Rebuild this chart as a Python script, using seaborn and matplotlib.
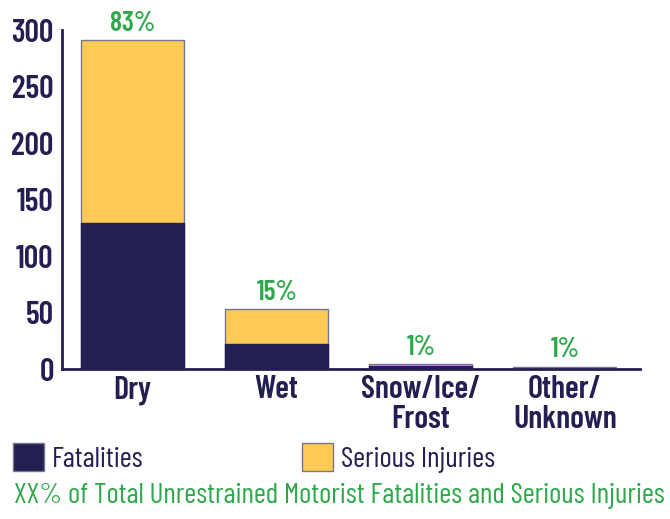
import pandas as pd
import matplotlib.pyplot as plt
import seaborn as sns
from matplotlib.patches import Patch

# surface conditions, stacked counts
conditions = ['Dry', 'Wet', 'Snow/Ice/\nFrost', 'Other/\nUnknown']
fatalities = [129, 22, 3, 0]
serious_injuries = [162, 31, 1, 2]
pct_labels = ['83%', '15%', '1%', '1%']

navy = '#231f52'
yellow = '#fdca53'
green = '#2fa84b'

df = pd.DataFrame({'condition': conditions,
                   'fatalities': fatalities,
                   'serious': serious_injuries})
df['total'] = df['fatalities'] + df['serious']

sns.set_style('white')
plt.rcParams['font.family'] = ['Barlow Condensed', 'Roboto Condensed', 'DejaVu Sans']

fig = plt.figure(figsize=(6.7, 5.19), dpi=100)
ax = fig.add_axes([0.0925, 0.289, 0.8625, 0.653])

# total first (yellow), fatalities drawn over it (navy)
sns.barplot(data=df, x='condition', y='total', color=yellow, saturation=1,
            width=0.715, edgecolor='#77768f', linewidth=1, ax=ax)
sns.barplot(data=df, x='condition', y='fatalities', color=navy, saturation=1,
            width=0.715, edgecolor=navy, linewidth=1, ax=ax)

for i, (tot, lab) in enumerate(zip(df['total'], pct_labels)):
    ax.text(i, tot + 4, lab, ha='center', va='bottom', color=green,
            fontsize=20, fontweight='semibold')

ax.set_xlim(-0.49, 3.52)
ax.set_ylim(0, 300)
ax.set_yticks([0, 50, 100, 150, 200, 250, 300])
ax.set_xlabel('')
ax.set_ylabel('')
ax.tick_params(axis='y', length=0, colors=navy, labelsize=23, pad=6)
ax.tick_params(axis='x', length=0, colors=navy, labelsize=23, pad=4.5)
for t in ax.get_xticklabels() + ax.get_yticklabels():
    t.set_fontweight('semibold')
    t.set_linespacing(1.02)

sns.despine(ax=ax)
for s in ['left', 'bottom']:
    ax.spines[s].set_color(navy)
    ax.spines[s].set_linewidth(2)

handles = [Patch(facecolor=navy, edgecolor='#77768f', label='Fatalities'),
           Patch(facecolor=yellow, edgecolor='#77768f', label='Serious Injuries')]
fig.legend(handles=handles, loc='lower left', bbox_to_anchor=(0.002, 0.066),
           ncol=2, frameon=False, fontsize=21, labelcolor=navy,
           handlelength=1.07, handleheight=1.07, handletextpad=0.25,
           columnspacing=5.45, borderaxespad=0)

fig.text(0.021, 0.044, 'XX% of Total Unrestrained Motorist Fatalities and Serious Injuries',
         color=green, fontsize=21, ha='left', va='center')

fig.savefig('out.png', dpi=100)
